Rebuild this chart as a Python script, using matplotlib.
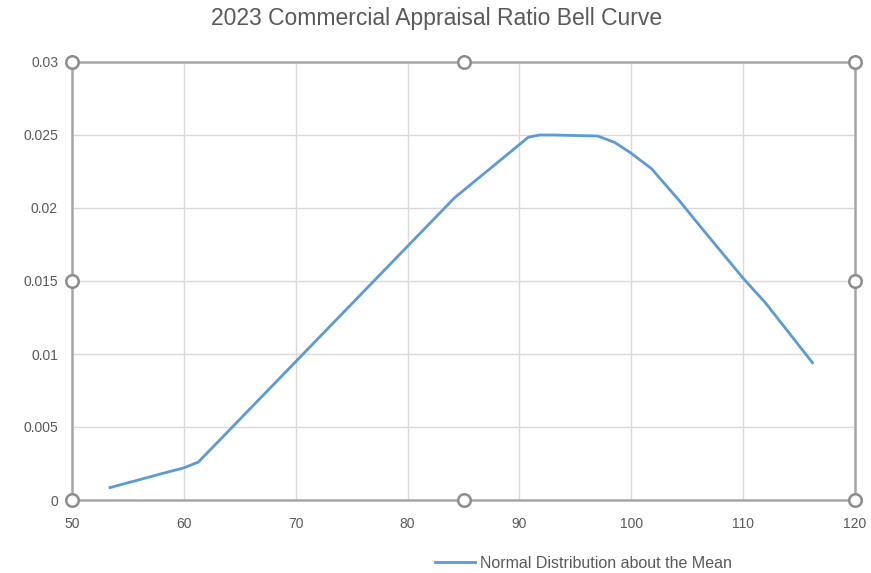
import matplotlib
matplotlib.use("Agg")
import matplotlib.pyplot as plt
from matplotlib.lines import Line2D

plt.rcParams['font.family'] = ['Liberation Sans Narrow', 'Liberation Sans', 'DejaVu Sans']

title = "2023 Commercial Appraisal Ratio Bell Curve"
series_name = "Normal Distribution about the Mean"
ratio = [53.4, 58.0, 60.0, 61.3, 84.2, 90.8, 91.8, 93.0, 97.0, 98.5, 99.9, 101.8, 104.3, 106.1, 110.1, 112.0, 116.2]
density = [0.00085, 0.0018, 0.0022, 0.0026, 0.0207, 0.02485, 0.0250, 0.02500, 0.02493, 0.0245, 0.0238, 0.0227,
           0.0205, 0.0188, 0.0151, 0.0135, 0.0094]
x_ticks = [50, 60, 70, 80, 90, 100, 110, 120]
y_ticks = [0, 0.005, 0.01, 0.015, 0.02, 0.025, 0.03]
y_labels = ["0", "0.005", "0.01", "0.015", "0.02", "0.025", "0.03"]

fig = plt.figure(figsize=(8.71, 5.73), dpi=100)
ax = fig.add_axes([72/871, 73/573, (855-72)/871, (500-62)/573])
ax.set_xlim(50, 120)
ax.set_ylim(0, 0.03)
ax.set_xticks(x_ticks)
ax.set_yticks(y_ticks)
ax.set_yticklabels(y_labels)
ax.grid(True, color='#D9D9D9', linewidth=1)
ax.set_axisbelow(True)
ax.tick_params(length=0, labelsize=10, colors='#595959')
ax.tick_params(axis='y', pad=10)
ax.tick_params(axis='x', pad=12)
for s in ax.spines.values():
    s.set_color('#A6A6A6')
    s.set_linewidth(1.8)

ax.plot(ratio, density, color='#5B9BD5', linewidth=2.0, solid_joinstyle='round')

# selection handles
hx = [0, 0.5, 1, 0, 1, 0, 0.5, 1]
hy = [0, 0, 0, 0.5, 0.5, 1, 1, 1]
ax.plot(hx, hy, linestyle='none', marker='o', markersize=9, markerfacecolor='white',
        markeredgecolor='#8C8C8C', markeredgewidth=1.8, transform=ax.transAxes, clip_on=False, zorder=5)

fig.text(437/871, 1 - 19/573, title, ha='center', va='center', fontsize=16.5, color='#595959')
handle = Line2D([], [], color='#5B9BD5', linewidth=2.0)
fig.legend([handle], [series_name], loc='center left', bbox_to_anchor=(429/871, 1 - 563/573),
           frameon=False, fontsize=11.5, labelcolor='#595959', handlelength=2.5, handletextpad=0.3,
           borderaxespad=0, borderpad=0.4)

fig.savefig("out.png", dpi=100, facecolor='white')
